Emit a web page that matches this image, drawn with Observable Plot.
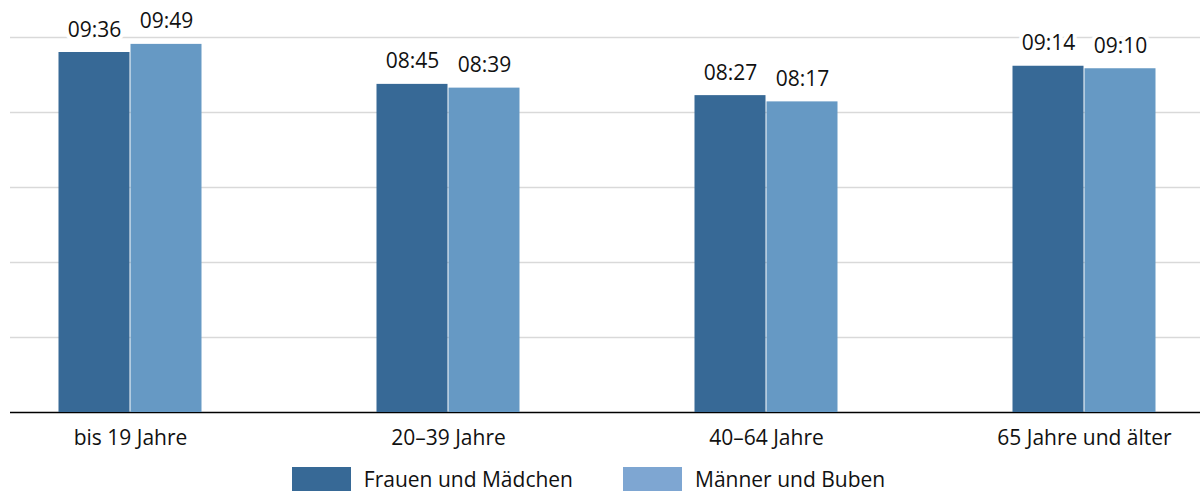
<!DOCTYPE html>
<html>
<head>
<meta charset="utf-8">
<script src="https://cdn.jsdelivr.net/npm/d3@7"></script>
<script src="https://cdn.jsdelivr.net/npm/@observablehq/plot@0.6"></script>
<style>
  html, body { margin: 0; padding: 0; background: #fff; }
  #wrap { position: relative; width: 1201px; height: 465px; }
  #wrap svg { position: absolute; left: 0; top: 0; background: transparent; }
  #legend { display: flex; justify-content: center; align-items: center; height: 28px;
    font-family: "Open Sans", sans-serif; font-size: 21px; color: #111; padding-right: 24px; }
  .sw { width: 59px; height: 25px; margin-right: 13px; }
  .item { display: flex; align-items: center; margin: 0 25px; }
</style>
</head>
<body>
<div id="wrap"></div>
<div id="legend"></div>
<script>
const categories = ["bis 19 Jahre", "20–39 Jahre", "40–64 Jahre", "65 Jahre und älter"];
const series = ["Frauen und Mädchen", "Männer und Buben"];
const frauen = ["09:36", "08:45", "08:27", "09:14"];
const maenner = ["09:49", "08:39", "08:17", "09:10"];
const yTicks = [0, 120, 240, 360, 480, 600]; // minutes: 0h … 10h

const barColors = ["#376996", "#6699c4"];
const legendColors = ["#376996", "#7ea6d2"];

const toMin = s => { const [h, m] = s.split(":").map(Number); return h * 60 + m; };
const data = [];
categories.forEach((c, i) => {
  data.push({cat: c, ser: series[0], label: frauen[i], v: toMin(frauen[i])});
  data.push({cat: c, ser: series[1], label: maenner[i], v: toMin(maenner[i])});
});

const H = 465, MT = 37, MB = 53;
const font = "'Open Sans', sans-serif";

const grid = Plot.plot({
  width: 1201, height: H, marginTop: MT, marginBottom: MB, marginLeft: 10, marginRight: 1,
  style: {fontFamily: font, background: "transparent"},
  y: {domain: [0, 600], axis: null},
  marks: [
    Plot.ruleY(yTicks.filter(d => d > 0), {stroke: "#d9d9d9", strokeWidth: 1.5}),
    Plot.ruleY([0], {stroke: "#000", strokeWidth: 1.5})
  ]
});

const bars = Plot.plot({
  width: 1201, height: H, marginTop: MT, marginBottom: MB, marginLeft: 12, marginRight: 0,
  style: {fontFamily: font, background: "transparent", overflow: "visible"},
  fx: {domain: categories, paddingInner: 0.548, paddingOuter: 0.14, label: null},
  x: {domain: series, padding: 0, axis: null},
  y: {domain: [0, 600], axis: null},
  color: {domain: series, range: barColors},
  marks: [
    Plot.barY(data, {fx: "cat", x: "ser", y: "v", fill: "ser", insetLeft: 0.5, insetRight: 0.5}),
    Plot.text(data, {fx: "cat", x: "ser", y: "v", text: "label", lineAnchor: "bottom", dy: -16,
      fontSize: 21, fill: "#111", stroke: "white", strokeWidth: 8, paintOrder: "stroke"}),
    Plot.axisFx({anchor: "bottom", tickSize: 0, tickPadding: 18, fontSize: 21, label: null, fill: "#111"})
  ]
});

const wrap = document.getElementById("wrap");
wrap.appendChild(grid);
wrap.appendChild(bars);

const legend = document.getElementById("legend");
series.forEach((s, i) => {
  const it = document.createElement("div");
  it.className = "item";
  const sw = document.createElement("div");
  sw.className = "sw";
  sw.style.background = legendColors[i];
  const tx = document.createElement("span");
  tx.textContent = s;
  it.appendChild(sw); it.appendChild(tx);
  legend.appendChild(it);
});
</script>
</body>
</html>
